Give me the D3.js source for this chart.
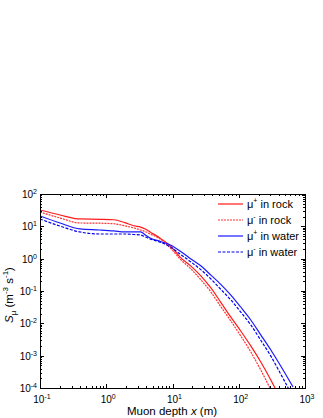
<!DOCTYPE html>
<html>
<head>
<meta charset="utf-8">
<script src="https://cdn.jsdelivr.net/npm/d3@7"></script>
<style>
  body { margin: 0; background: #fff; }
  text { font-family: "Liberation Sans", Arial, sans-serif; fill: #000; }
</style>
</head>
<body>
<div id="chart"></div>
<script>
// depth grid (m), shared by all four curves
var depth = [0.1, 0.2, 0.4, 0.8, 1.3, 1.9, 2.6, 3.3, 3.9, 4.6, 6.6, 9.3, 13, 19, 27, 38, 53, 76, 107, 152, 215, 305, 430, 660];

// stopping rate S_mu (m^-3 s^-1)
var muPlusRock  = [32, 22.4, 16.9, 16.5, 16.0, 13.0, 10.4, 9.5, 8.3, 6.7, 4.2, 2.46, 1.12, 0.59, 0.29, 0.124, 0.046, 0.0155, 0.0058, 0.0020, 6.4e-4, 1.77e-4, 4.3e-5, 5e-6];
var muMinusRock = [27.7, 18.1, 12.7, 12.5, 12.0, 10.4, 8.9, 7.7, 6.8, 5.8, 4.0, 2.14, 0.98, 0.48, 0.219, 0.093, 0.034, 0.0118, 0.0041, 0.0013, 3.6e-4, 8.7e-5, 2e-5, 3e-6];
var muPlusWater = [20.9, 12.7, 8.3, 7.7, 7.2, 6.7, 6.7, 6.7, 5.4, 4.36, 3.4, 2.65, 1.73, 0.98, 0.59, 0.31, 0.164, 0.075, 0.032, 0.0127, 0.0044, 0.0015, 4.8e-4, 1.07e-4];
var muMinusWater = [16.9, 10.2, 6.7, 5.8, 5.8, 5.8, 5.6, 5.4, 4.7, 4.06, 3.2, 2.30, 1.39, 0.79, 0.45, 0.235, 0.115, 0.053, 0.0224, 0.0089, 0.0030, 9.7e-4, 2.7e-4, 5.3e-5];

var seriesNames = ["+ in rock", "- in rock", "+ in water", "- in water"];
var seriesData = [muPlusRock, muMinusRock, muPlusWater, muMinusWater];
var seriesColors = ["#ff1a1a", "#ff3333", "#1a1aff", "#0000ee"];
var seriesDash = [null, "2,1", null, "3,1.5"];

var xExp = [-1, 0, 1, 2, 3];
var yExp = [-4, -3, -2, -1, 0, 1, 2];

function drawChart() {
  var width = 323, height = 418;
  var pLeft = 40, pRight = 305, pTop = 194, pBottom = 388;

  var svg = d3.select("#chart").append("svg")
    .attr("width", width)
    .attr("height", height);

  var x = d3.scaleLog().domain([0.1, 1000]).range([pLeft, pRight]);
  var y = d3.scaleLog().domain([1e-4, 100]).range([pBottom, pTop]);

  svg.append("clipPath").attr("id", "clip")
    .append("rect")
    .attr("x", pLeft).attr("y", pTop)
    .attr("width", pRight - pLeft).attr("height", pBottom - pTop);

  // curves
  var line = d3.line()
    .x(function (d) { return x(d[0]); })
    .y(function (d) { return y(d[1]); })
    .curve(d3.curveMonotoneX);

  var curves = svg.append("g").attr("clip-path", "url(#clip)");
  seriesData.forEach(function (vals, i) {
    var pts = depth.map(function (d, j) { return [d, vals[j]]; });
    curves.append("path")
      .attr("d", line(pts))
      .attr("fill", "none")
      .attr("stroke", seriesColors[i])
      .attr("stroke-width", 1.2)
      .attr("stroke-dasharray", seriesDash[i]);
  });

  // frame
  svg.append("rect")
    .attr("x", pLeft + 0.5).attr("y", pTop + 0.5)
    .attr("width", pRight - pLeft).attr("height", pBottom - pTop)
    .attr("fill", "none").attr("stroke", "#000").attr("stroke-width", 1);

  // log ticks (major + minor), pointing inward on all four sides
  function logTicks(lo, hi) {
    var out = [];
    for (var e = lo; e < hi; e++) {
      for (var m = 1; m < 10; m++) out.push({ v: m * Math.pow(10, e), major: m === 1 });
    }
    out.push({ v: Math.pow(10, hi), major: true });
    return out;
  }

  var ticks = svg.append("g").attr("stroke", "#000").attr("stroke-width", 1);
  logTicks(-1, 3).forEach(function (t) {
    var px = Math.round(x(t.v)) + 0.5, len = t.major ? 4 : 2;
    ticks.append("line").attr("x1", px).attr("x2", px).attr("y1", pBottom).attr("y2", pBottom - len);
    ticks.append("line").attr("x1", px).attr("x2", px).attr("y1", pTop).attr("y2", pTop + len);
  });
  logTicks(-4, 2).forEach(function (t) {
    var py = Math.round(y(t.v)) + 0.5, len = t.major ? 4 : 2;
    ticks.append("line").attr("x1", pLeft).attr("x2", pLeft + len).attr("y1", py).attr("y2", py);
    ticks.append("line").attr("x1", pRight).attr("x2", pRight - len).attr("y1", py).attr("y2", py);
  });

  // tick labels
  xExp.forEach(function (e) {
    var t = svg.append("text")
      .attr("x", x(Math.pow(10, e)) + 2)
      .attr("y", 403)
      .attr("text-anchor", "middle")
      .attr("font-size", 10);
    t.append("tspan").text("10");
    t.append("tspan").attr("dy", -4).attr("font-size", 7).text(e);
  });

  yExp.forEach(function (e) {
    var t = svg.append("text")
      .attr("x", 37)
      .attr("y", y(Math.pow(10, e)) + 4)
      .attr("text-anchor", "end")
      .attr("font-size", 10);
    t.append("tspan").text("10");
    t.append("tspan").attr("dy", -4).attr("font-size", 7).text(e);
  });

  // axis titles
  var xt = svg.append("text")
    .attr("x", 172).attr("y", 415)
    .attr("text-anchor", "middle")
    .attr("font-size", 11.5);
  xt.append("tspan").text("Muon depth ");
  xt.append("tspan").attr("font-style", "italic").text("x");
  xt.append("tspan").text(" (m)");

  var yt = svg.append("text")
    .attr("transform", "translate(13," + ((pTop + pBottom) / 2 + 4) + ") rotate(-90)")
    .attr("text-anchor", "middle")
    .attr("font-size", 11.5);
  yt.append("tspan").attr("font-style", "italic").text("S");
  yt.append("tspan").attr("dy", 3).attr("font-size", 8).text("μ");
  yt.append("tspan").attr("dy", -3).text("  (m");
  yt.append("tspan").attr("dy", -5).attr("font-size", 8).text("-3");
  yt.append("tspan").attr("dy", 5).text(" s");
  yt.append("tspan").attr("dy", -5).attr("font-size", 8).text("-1");
  yt.append("tspan").attr("dy", 5).text(")");

  // legend
  var legend = svg.append("g");
  seriesNames.forEach(function (name, i) {
    var ly = 204 + i * 16;
    legend.append("line")
      .attr("x1", 218).attr("x2", 243)
      .attr("y1", ly).attr("y2", ly)
      .attr("stroke", seriesColors[i])
      .attr("stroke-width", 1.2)
      .attr("stroke-dasharray", seriesDash[i]);
    var t = legend.append("text")
      .attr("x", 247).attr("y", ly + 4)
      .attr("font-size", 11);
    t.append("tspan").text("μ");
    t.append("tspan").attr("dy", -5).attr("font-size", 7).text(name.charAt(0));
    t.append("tspan").attr("dy", 5).text(name.slice(1));
  });
}

drawChart();
</script>
</body>
</html>
